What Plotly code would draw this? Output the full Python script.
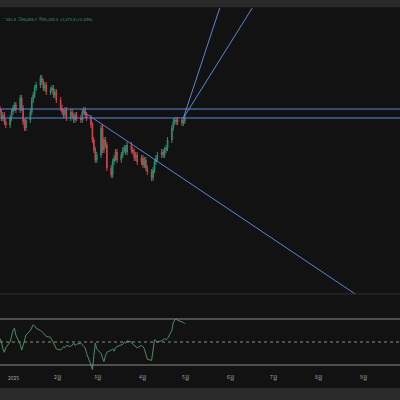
import plotly.graph_objects as go
import pandas as pd
from plotly.subplots import make_subplots

close_px = [112,118,115,122,125,118,112,108,105,110,98,108,122,128,120,112,100,95,88,85,
            78,82,88,85,92,90,88,95,92,100,108,112,115,110,118,112,116,120,115,118,
            120,112,110,115,118,125,140,150,160,155,128,150,140,145,168,175,162,158,152,160,
            155,150,148,152,145,150,152,158,155,162,158,165,160,168,172,178,170,162,158,155,
            152,155,150,148,140,128,122,120,122,120,123,121,118]
close = [300 - v for v in close_px]
rsi = [53,50,44,41,45,50,55,60,62,56,48,43,47,52,56,60,63,65,64,62,
       60,59,58,56,55,54,52,50,47,44,43,44,46,45,47,46,48,49,47,48,
       49,47,46,45,40,30,26,38,49,44,40,36,33,38,41,43,44,42,45,46,
       47,48,50,49,51,50,48,47,46,45,47,46,44,40,35,34,42,52,51,50,
       51,52,53,52,53,60,67,69,70,69,68,67,66]
dates = pd.bdate_range("2024-12-23", periods=len(close))
opens = [close[0] + 3] + close[:-1]
highs = [max(o, c) + 3 for o, c in zip(opens, close)]
lows = [min(o, c) - 3 for o, c in zip(opens, close)]

hlines = [191, 182]
trend = [("2025-02-19", 188), ("2025-08-26", 6)]
ray1 = [("2025-04-29", 182), ("2025-05-26", 300)]
ray2 = [("2025-04-29", 182), ("2025-06-17", 295)]
tickvals = ["2025-01-01","2025-02-01","2025-03-01","2025-04-01","2025-05-01","2025-06-01","2025-07-01","2025-08-01","2025-09-01"]
ticktext = ["2025","2월","3월","4월","5월","6월","7월","8월","9월"]

bg = "#121212"
fig = make_subplots(rows=2, cols=1, shared_xaxes=True, vertical_spacing=0.005,
                    row_heights=[0.76, 0.24])
fig.add_trace(go.Candlestick(x=dates, open=opens, high=highs, low=lows, close=close,
    increasing=dict(line=dict(color="#2f8a6c", width=1), fillcolor="#2f8a6c"),
    decreasing=dict(line=dict(color="#c9444a", width=1), fillcolor="#c9444a"),
    whiskerwidth=0, showlegend=False), row=1, col=1)
fig.add_trace(go.Scatter(x=dates, y=rsi, mode="lines", line=dict(color="#4f8a63", width=1),
                         showlegend=False), row=2, col=1)

for h in hlines:
    fig.add_hline(y=h, line=dict(color="#5b86d6", width=1), row=1, col=1)
for seg in (trend, ray1, ray2):
    fig.add_shape(type="line", x0=seg[0][0], y0=seg[0][1], x1=seg[1][0], y1=seg[1][1],
                  line=dict(color="#5b86d6", width=1), xref="x", yref="y")
for lv, dash in ((70, "solid"), (30, "solid"), (50, "dot")):
    fig.add_hline(y=lv, line=dict(color="#8a8a8a", width=1, dash=dash), row=2, col=1)

fig.add_shape(type="rect", xref="paper", yref="paper", x0=0, x1=1, y0=0.982, y1=1,
              fillcolor="#2a2a2a", line_width=0, layer="below")
fig.add_shape(type="rect", xref="paper", yref="paper", x0=0, x1=1, y0=0, y1=0.03,
              fillcolor="#2a2a2a", line_width=0, layer="below")
fig.add_annotation(text="…381.4  고94,086.7  저95,100.5  +1,575.8 (+2.10%)", xref="paper", yref="paper",
                   x=0, y=0.966, xanchor="left", showarrow=False,
                   font=dict(size=4, color="#3f9e7f"))
for tv, tt in zip(tickvals, ticktext):
    fig.add_annotation(text=tt, x=tv, xref="x2", yref="paper", y=0.043, showarrow=False,
                       font=dict(size=5, color="#aaaaaa"))

fig.update_layout(width=400, height=400, margin=dict(l=0, r=0, t=0, b=0, autoexpand=False),
                  paper_bgcolor=bg, plot_bgcolor=bg, font=dict(family="Noto Sans CJK KR"),
                  xaxis_rangeslider_visible=False)
xr = ["2024-12-23", "2025-09-26"]
fig.update_xaxes(range=xr, showgrid=False, zeroline=False, showticklabels=False, showline=False)
fig.update_yaxes(row=1, col=1, range=[6, 292], domain=[0.265, 0.98], showgrid=False,
                 zeroline=False, showticklabels=False)
fig.update_yaxes(row=2, col=1, range=[10, 90], domain=[0.03, 0.26], showgrid=False,
                 zeroline=False, showticklabels=False)
fig.add_shape(type="line", xref="paper", yref="paper", x0=0, x1=1, y0=0.265, y1=0.265,
              line=dict(color="#2e2e2e", width=1))
fig.write_html("out.html", config={"displayModeBar": False},
               post_script="document.body.style.margin='0';document.body.style.background='#121212';")
